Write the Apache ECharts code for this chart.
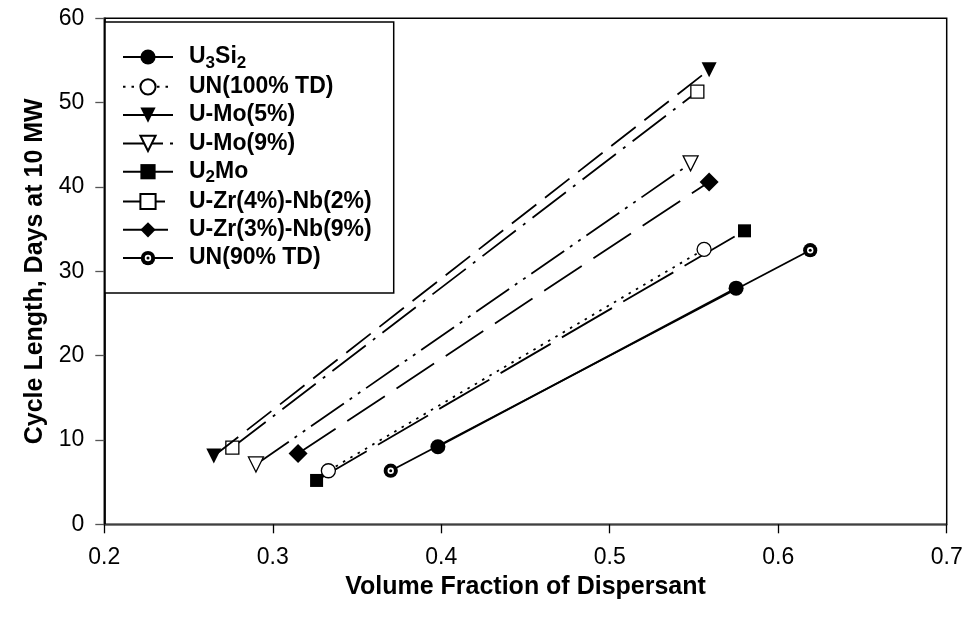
<!DOCTYPE html>
<html>
<head>
<meta charset="utf-8">
<script src="https://cdn.jsdelivr.net/npm/echarts@6/dist/echarts.min.js"></script>
<style>html,body{margin:0;padding:0;background:#fff}#c{width:968px;height:624px}</style>
</head>
<body>
<div id="c"></div>
<script>
// ---- data ----
const seriesNames = ['U3Si2','UN(100% TD)','U-Mo(5%)','U-Mo(9%)','U2Mo','U-Zr(4%)-Nb(2%)','U-Zr(3%)-Nb(9%)','UN(90% TD)'];
const U3Si2   = [[0.398, 9.2], [0.575, 28.0]];
const UN100   = [[0.333, 6.35], [0.556, 32.6]];
const UMo5    = [[0.265, 8.1], [0.559, 53.9]];
const UMo9    = [[0.290, 7.1], [0.548, 42.8]];
const U2Mo    = [[0.326, 5.2], [0.580, 34.8]];
const UZr4Nb2 = [[0.276, 9.1], [0.552, 51.3]];
const UZr3Nb9 = [[0.315, 8.4], [0.559, 40.6]];
const UN90    = [[0.370, 6.35], [0.619, 32.5]];
const xTicks = [0.2, 0.3, 0.4, 0.5, 0.6, 0.7];
const yTicks = [0, 10, 20, 30, 40, 50, 60];

const FONT = '"Liberation Sans", Arial, sans-serif';
const bullseye = 'image://data:image/svg+xml;charset=utf-8,' + encodeURIComponent(
  '<svg xmlns="http://www.w3.org/2000/svg" width="16" height="16" viewBox="0 0 16 16">' +
  '<circle cx="8" cy="8" r="7.6" fill="#000"/><circle cx="8" cy="8" r="3.4" fill="#fff"/>' +
  '<circle cx="8" cy="8" r="1.6" fill="#000"/></svg>');

const styles = [
  {data: U3Si2,   symbol: 'circle',   size: 15, fill: '#000', dash: 'solid'},
  {data: UN100,   symbol: 'circle',   size: 14, fill: '#fff', dash: [2.5, 6]},
  {data: UMo5,    symbol: 'triangle', size: 15, fill: '#000', dash: [31, 11], rot: 180, legendDash: 'solid'},
  {data: UMo9,    symbol: 'triangle', size: 15, fill: '#fff', dash: [40, 7, 3, 7, 3, 7], rot: 180},
  {data: U2Mo,    symbol: 'rect',     size: 13, fill: '#000', dash: [58, 13]},
  {data: UZr4Nb2, symbol: 'rect',     size: 13, fill: '#fff', dash: [42, 9, 3, 9]},
  {data: UZr3Nb9, symbol: 'diamond',  size: 19, fill: '#000', dash: [45, 14]},
  {data: UN90,    symbol: bullseye,   size: 15, fill: '#000', dash: 'solid'}
];

const series = styles.map((s, i) => ({
  name: seriesNames[i],
  type: 'line',
  data: s.data,
  symbol: s.symbol,
  symbolSize: s.size,
  symbolRotate: s.rot || 0,
  showAllSymbol: true,
  animation: false,
  z: 10 - i,
  lineStyle: {color: '#000', width: 1.8, type: s.dash},
  itemStyle: {color: s.fill, borderColor: '#000', borderWidth: s.fill === '#fff' ? 1.3 : 0}
}));

const legendData = seriesNames.map((n, i) => {
  const item = {name: n};
  if (styles[i].legendDash) item.lineStyle = {type: styles[i].legendDash};
  return item;
});

const legendFormatter = function (name) {
  if (name === 'U3Si2') return '{f|U}{s|3}{n|Si}{s|2}';
  if (name === 'U2Mo') return '{f|U}{s|2}{n|Mo}';
  return '{f|' + name + '}';
};

const TXT = {fontFamily: FONT, fontSize: 23, fontWeight: 'bold', color: '#000', height: 26, lineHeight: 26};

const chart = echarts.init(document.getElementById('c'), null, {renderer: 'canvas'});
chart.setOption({
  backgroundColor: '#fff',
  animation: false,
  grid: {left: 104.3, right: 21.3, top: 18.3, bottom: 99.7, show: true, borderColor: '#000', borderWidth: 1.5},
  xAxis: {
    type: 'value', min: xTicks[0], max: xTicks[xTicks.length - 1], interval: 0.1,
    name: 'Volume Fraction of Dispersant', nameLocation: 'middle', nameGap: 44,
    nameTextStyle: {fontFamily: FONT, fontSize: 25, fontWeight: 'bold', color: '#000'},
    axisLine: {show: true, lineStyle: {color: '#555', width: 1.5}},
    axisTick: {show: true, inside: false, length: 9, lineStyle: {color: '#000', width: 1.3}},
    axisLabel: {margin: 22, fontFamily: FONT, fontSize: 23, color: '#000', formatter: v => v.toFixed(1)},
    splitLine: {show: false}
  },
  yAxis: {
    type: 'value', min: yTicks[0], max: yTicks[yTicks.length - 1], interval: 10,
    name: 'Cycle Length, Days at 10 MW', nameLocation: 'middle', nameGap: 52,
    nameTextStyle: {fontFamily: FONT, fontSize: 25, fontWeight: 'bold', color: '#000'},
    axisLine: {show: true, lineStyle: {color: '#000', width: 1.8}},
    axisTick: {show: true, inside: false, length: 9, lineStyle: {color: '#555', width: 1.3}},
    axisLabel: {margin: 20, fontFamily: FONT, fontSize: 23, color: '#000'},
    splitLine: {show: false}
  },
  legend: {
    orient: 'vertical', left: 105, top: 22,
    padding: [22, 22, 22, 17],
    itemWidth: 50, itemHeight: 19, itemGap: 2.3,
    backgroundColor: '#fff', borderColor: '#000', borderWidth: 1.5,
    data: legendData,
    formatter: legendFormatter,
    textStyle: {
      fontFamily: FONT, fontSize: 23, fontWeight: 'bold', color: '#000', lineHeight: 26,
      rich: {
        f: Object.assign({}, TXT, {padding: [0, 0, 0, 11]}),
        n: Object.assign({}, TXT),
        s: {fontFamily: FONT, fontSize: 17, fontWeight: 'bold', color: '#000', height: 14, lineHeight: 14, padding: [12, 0, 0, 0]}
      }
    }
  },
  series: series
});
</script>
</body>
</html>
